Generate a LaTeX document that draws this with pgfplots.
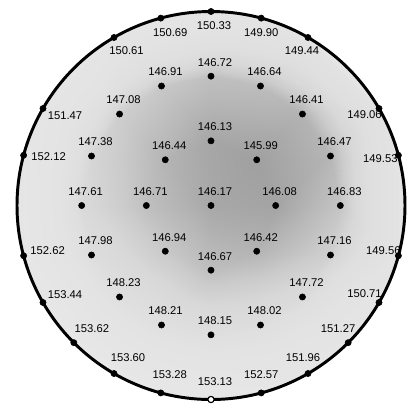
\documentclass[border=0pt]{standalone}
\usepackage{pgfplots}
\pgfplotsset{compat=1.18}
\usepackage{pgfplotstable}
\usepackage{fontspec}
\setmainfont{Liberation Sans}

% Measurement sites: position on the wafer (units of the inner ring radius),
% measured value, and label offset in pixels (right, up).
\pgfplotstableread{
x       y       v       dx      dy
0       0       146.17  4       14
1       0       146.08  4       14
0.7071  0.7071  145.99  4       14
0       1       146.13  4       14
-0.7071 0.7071  146.44  4       14
-1      0       146.71  4       14
-0.7071 -0.7071 146.94  4       14
0       -1      146.67  4       14
0.7071  -0.7071 146.42  4       14
2       0       146.83  4       14
1.8478  0.7654  146.47  4       14
1.4142  1.4142  146.41  4       14
0.7654  1.8478  146.64  4       14
0       2       146.72  4       14
-0.7654 1.8478  146.91  4       14
-1.4142 1.4142  147.08  4       14
-1.8478 0.7654  147.38  4       14
-2      0       147.61  4       14
-1.8478 -0.7654 147.98  4       14
-1.4142 -1.4142 148.23  4       14
-0.7654 -1.8478 148.21  4       14
0       -2      148.15  4       14
0.7654  -1.8478 148.02  4       14
1.4142  -1.4142 147.72  4       14
1.8478  -0.7654 147.16  4       14
2.8978  0.7765  149.53  -18     -3
2.5981  1.5     149.06  -14.5   -6
1.5     2.5981  149.44  -6      -13
0.7765  2.8978  149.90  0       -15
0       3       150.33  3       -14
-0.7765 2.8978  150.69  9.5     -15
-1.5    2.5981  150.61  12.5    -13
-2.5981 1.5     151.47  22      -7
-2.8978 0.7765  152.12  25      -1
-2.8978 -0.7765 152.62  24      5
-2.5981 -1.5    153.44  22      8
-2.1213 -2.1213 153.62  18      14
-1.5    -2.5981 153.60  14      16
-0.7765 -2.8978 153.28  9       18
0       -3      153.13  4       18
0.7765  -2.8978 152.57  0       18
1.5     -2.5981 151.96  -5      16
2.1213  -2.1213 151.27  -10     14
2.5981  -1.5    150.71  -14.5   9
2.8978  -0.7765 149.56  -15     5
}\sites

\definecolor{waferbg}{RGB}{229,229,229}

\begin{document}
\begin{tikzpicture}
\begin{axis}[
  scale only axis,
  width=10.175cm, height=10.075cm,
  xmin=-3.263, xmax=3.031,
  ymin=-3.054, ymax=3.178,
  axis line style={draw=none},
  ticks=none,
  colormap={wafer}{rgb255(0cm)=(160,160,160); rgb255(0.5cm)=(183,183,183);
    rgb255(1cm)=(203,203,203); rgb255(1.5cm)=(216,216,216);
    rgb255(2.2cm)=(223,223,223); rgb255(3.5cm)=(227,227,227);
    rgb255(7.62cm)=(231,231,231)},
  point meta min=146, point meta max=153.62,
]
  % wafer disc
  \fill[waferbg] (axis cs:0,0) circle[radius=4.85cm];

  % thickness map over a triangulation of the sites
  \addplot[patch, patch type=triangle, shader=interp,
    point meta=explicit,
    table/row sep=\\,
    patch table={
      0 1 2\\ 0 2 3\\ 0 3 4\\ 0 4 5\\ 0 5 6\\ 0 6 7\\ 0 7 8\\ 0 8 1\\
      1 9 10\\ 1 10 2\\ 2 10 11\\ 2 11 12\\ 2 12 3\\ 3 12 13\\
      3 13 14\\ 3 14 4\\ 4 14 15\\ 4 15 16\\ 4 16 5\\ 5 16 17\\
      5 17 18\\ 5 18 6\\ 6 18 19\\ 6 19 20\\ 6 20 7\\ 7 20 21\\
      7 21 22\\ 7 22 8\\ 8 22 23\\ 8 23 24\\ 8 24 1\\ 1 24 9\\
      9 44 25\\ 9 25 10\\ 10 25 26\\ 10 26 11\\ 11 26 27\\ 11 27 12\\
      12 27 28\\ 12 28 13\\ 13 28 29\\ 13 29 30\\ 13 30 14\\ 14 30 31\\
      14 31 15\\ 15 31 32\\ 15 32 16\\ 16 32 33\\ 16 33 17\\ 17 33 34\\
      17 34 18\\ 18 34 35\\ 18 35 19\\ 19 35 36\\ 19 36 37\\ 19 37 20\\
      20 37 38\\ 20 38 21\\ 21 38 39\\ 21 39 40\\ 21 40 22\\ 22 40 41\\
      22 41 23\\ 23 41 42\\ 23 42 43\\ 23 43 24\\ 24 43 44\\ 24 44 9\\
    }]
    table[x=x, y=y, meta=v] {\sites};

  % wafer edge
  \draw[black, line width=2.1pt] (axis cs:0,0) circle[radius=4.85cm];

  % measurement sites with their values
  \addplot[only marks, mark=*, mark size=2.2pt, black,
    visualization depends on={\thisrow{dx}\as\lx},
    visualization depends on={\thisrow{dy}\as\ly},
    point meta=explicit,
    nodes near coords={\pgfmathprintnumber[fixed, fixed zerofill, precision=2,
      assume math mode=true]{\pgfplotspointmeta}},
    nodes near coords style={anchor=center, text=black,
      font=\fontsize{8}{9}\selectfont,
      xshift=\lx*0.025cm, yshift=\ly*0.025cm},
  ] table[x=x, y=y, meta=v] {\sites};

  % notch site
  \addplot[only marks, mark=*, mark size=2.2pt,
    mark options={fill=white, draw=black, line width=0.8pt}]
    coordinates {(0,-3)};
\end{axis}
\end{tikzpicture}
\end{document}
